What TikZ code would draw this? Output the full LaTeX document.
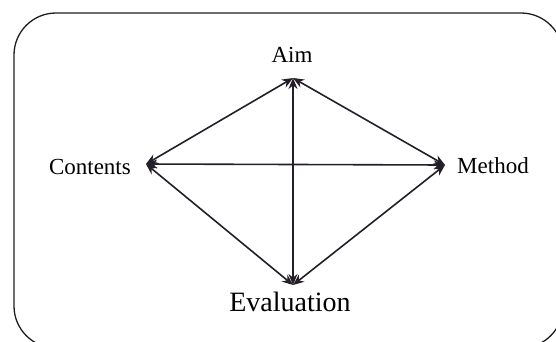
\documentclass[tikz,border=0pt]{standalone}
\usepackage{fontspec}
\setmainfont{Liberation Serif}
\usetikzlibrary{arrows.meta}
\begin{document}
\begin{tikzpicture}[x=1pt,y=-1pt,
  link/.style={line width=1.6pt,draw={rgb,255:red,35;green,30;blue,40},
    {Stealth[length=11pt,width=9pt]}-{Stealth[length=11pt,width=9pt]}},
  lbl/.style={inner sep=0pt,font=\fontsize{23}{27}\selectfont},
  frame/.style={line width=1.3pt,draw={rgb,255:red,30;green,30;blue,30},rounded corners=42pt}]
\useasboundingbox (0,0) rectangle (556,341);
\clip (0,0) rectangle (556,341);
\draw[frame] (14,13) rectangle (563,348);
\coordinate (A) at (293,78);
\coordinate (C) at (146,164);
\coordinate (M) at (445,165);
\coordinate (E) at (293,285);
\node[lbl] (aim) at (292,55) {Aim};
\node[lbl,anchor=east] (con) at (131,167) {Contents};
\node[lbl,anchor=west] (met) at (457,166) {Method};
\node[lbl,font=\fontsize{28}{32}\selectfont] (eva) at (290,302) {Evaluation};
\draw[link] (C) -- (A);
\draw[link] (A) -- (M);
\draw[link] (C) -- (M);
\draw[link] (C) -- (E);
\draw[link] (M) -- (E);
\draw[link] (A) -- (E);
\end{tikzpicture}
\end{document}
